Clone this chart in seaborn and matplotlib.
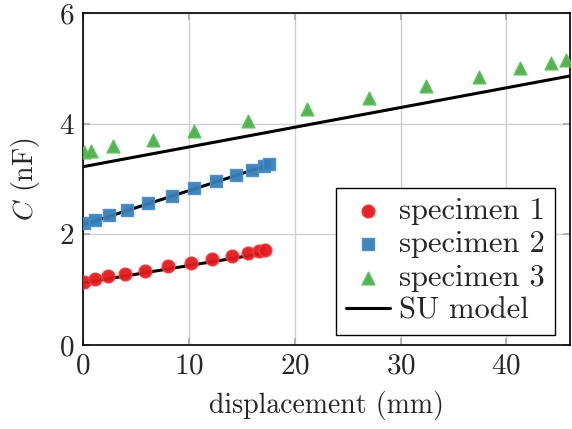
import numpy as np
import pandas as pd
import matplotlib
matplotlib.use('Agg')
import matplotlib.pyplot as plt
import seaborn as sns

# measured capacitance (nF) vs displacement (mm)
disp_1 = [0.1, 1.1, 2.4, 4.0, 5.9, 8.0, 10.2, 12.2, 14.1, 15.6, 16.6, 17.2]
cap_1 = [1.14, 1.19, 1.24, 1.28, 1.34, 1.42, 1.48, 1.55, 1.61, 1.66, 1.70, 1.72]

disp_2 = [0.1, 1.1, 2.5, 4.2, 6.1, 8.4, 10.5, 12.6, 14.5, 16.0, 17.1, 17.6]
cap_2 = [2.21, 2.26, 2.34, 2.44, 2.57, 2.69, 2.83, 2.97, 3.07, 3.16, 3.24, 3.27]

disp_3 = [0.1, 0.8, 2.8, 6.6, 10.5, 15.6, 21.2, 27.0, 32.4, 37.4, 41.3, 44.2, 45.6]
cap_3 = [3.48, 3.50, 3.59, 3.71, 3.87, 4.04, 4.26, 4.47, 4.67, 4.85, 5.00, 5.10, 5.15]

# SU model end points for each specimen
model_x1 = [0.0, 17.2]
model_c1 = [1.12, 1.66]
model_x2 = [0.0, 17.5]
model_c2 = [2.17, 3.25]
model_x3 = [0.0, 46.0]
model_c3 = [3.22, 4.86]

sns.set_theme(style='whitegrid')
plt.rcParams['font.family'] = ['cmr10', 'DejaVu Serif']
plt.rcParams['mathtext.fontset'] = 'cm'
plt.rcParams['axes.formatter.use_mathtext'] = True

fig = plt.figure(figsize=(5.72, 4.29), dpi=100)
ax = fig.add_axes([0.145, 0.196, 0.8515, 0.774])

# model lines first so the markers sit on top
for mx, mc in [(model_x1, model_c1), (model_x2, model_c2), (model_x3, model_c3)]:
    sns.lineplot(x=mx, y=mc, ax=ax, color='black', linewidth=2.2, zorder=2)

red = '#e41a1c'
blue = '#377eb8'
green = '#4daf4a'
sns.scatterplot(x=disp_1, y=cap_1, ax=ax, marker='o', s=85, color=red,
                edgecolor='#f03c3e', linewidth=1.0, alpha=0.95, zorder=3, label='specimen 1')
sns.scatterplot(x=disp_2, y=cap_2, ax=ax, marker='s', s=75, color=blue,
                edgecolor='#4a90cc', linewidth=1.0, alpha=0.95, zorder=3, label='specimen 2')
sns.scatterplot(x=disp_3, y=cap_3, ax=ax, marker='^', s=85, color=green,
                edgecolor='#5cc259', linewidth=1.0, alpha=0.95, zorder=3, label='specimen 3')
ax.plot([], [], color='black', linewidth=2.2, label='SU model')

ax.set_xlim(0, 46)
ax.set_ylim(0, 6)
ax.set_xticks([0, 10, 20, 30, 40])
ax.set_yticks([0, 2, 4, 6])
ax.set_xlabel('displacement (mm)', fontsize=20, labelpad=8)
ax.set_ylabel(r'$C$ (nF)', fontsize=20, labelpad=12)
ax.tick_params(labelsize=21, direction='in', length=5, color='#aaaaaa',
               top=True, right=True, bottom=True, left=True, pad=6)
ax.grid(True, color='#d0d0d0', linewidth=1.0)
ax.set_axisbelow(True)
for sp in ax.spines.values():
    sp.set_color('black')
    sp.set_linewidth(1.2)

leg = ax.legend(loc='lower right', bbox_to_anchor=(0.969, 0.03), fontsize=22,
                frameon=True, fancybox=False, edgecolor='black', framealpha=1.0,
                borderpad=0.33, handlelength=1.45, handletextpad=0.3,
                labelspacing=0.19, borderaxespad=0.0)
leg.get_frame().set_linewidth(1.0)

fig.savefig('out.png', dpi=100)
